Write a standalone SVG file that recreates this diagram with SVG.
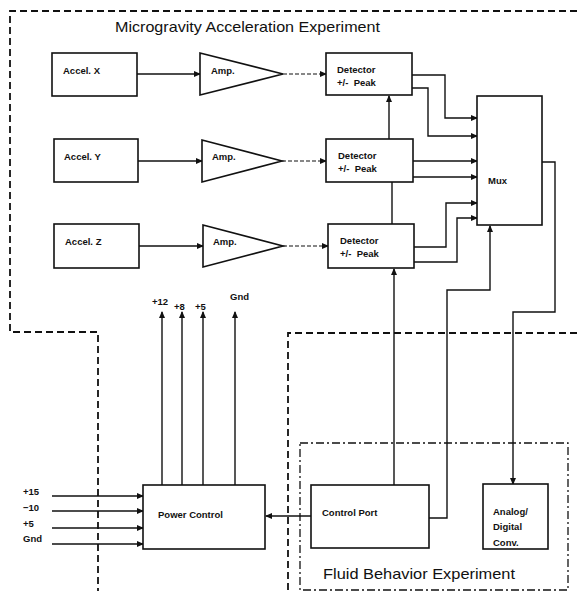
<svg xmlns="http://www.w3.org/2000/svg" width="577" height="591" viewBox="0 0 577 591">
<style>
.box{fill:#fff;stroke:#111;stroke-width:1.6}
.ln{fill:none;stroke:#111;stroke-width:1.4}
.dl{fill:none;stroke:#111;stroke-width:1.2;stroke-dasharray:4 2}
.bd{fill:none;stroke:#111;stroke-width:1.8;stroke-dasharray:7 4}
.dd{fill:none;stroke:#111;stroke-width:1.3;stroke-dasharray:8 3 2 3}
.t{font-family:"Liberation Sans",Arial,sans-serif;font-size:9.5px;font-weight:bold;fill:#111}
.big{font-family:"Liberation Sans",Arial,sans-serif;font-size:15px;fill:#111}
</style>
<defs>
<marker id="ah" markerWidth="7" markerHeight="6" refX="6" refY="3" orient="auto" markerUnits="userSpaceOnUse">
<path d="M0,0 L7,3 L0,6 Z" fill="#111"/>
</marker>
</defs>
<rect width="577" height="591" fill="#fff"/>
<g id="borders">
<path class="bd" d="M577,11 H10 V332 H98 V591"/>
<path class="bd" d="M577,333 H288 V591"/>
<rect class="dd" x="300" y="443" width="268" height="147"/>
<text class="big" x="115" y="32" textLength="265" lengthAdjust="spacingAndGlyphs">Microgravity Acceleration Experiment</text>
<text class="big" x="323" y="579" textLength="192" lengthAdjust="spacingAndGlyphs">Fluid Behavior Experiment</text>
</g>
<g id="connectors" class="ln">
<path d="M137,74 H200" marker-end="url(#ah)"/>
<path d="M138,161 H202" marker-end="url(#ah)"/>
<path d="M139,246 H203" marker-end="url(#ah)"/>
<path class="dl" d="M283,74 H326" marker-end="url(#ah)"/>
<path class="dl" d="M282,161 H326" marker-end="url(#ah)"/>
<path class="dl" d="M283,246 H328" marker-end="url(#ah)"/>
<path d="M389,139 V96" marker-end="url(#ah)"/>
<path d="M392,224 V182"/>
<path d="M394,485 V269" marker-end="url(#ah)"/>
<path d="M412,75 H445 V118 H477" marker-end="url(#ah)"/>
<path d="M412,88 H428 V136 H477" marker-end="url(#ah)"/>
<path d="M413,161 H477" marker-end="url(#ah)"/>
<path d="M413,177 H477" marker-end="url(#ah)"/>
<path d="M414,247 H446 V203 H477" marker-end="url(#ah)"/>
<path d="M414,262 H457 V218 H477" marker-end="url(#ah)"/>
<path d="M429,518 H447 V290 H490 V226" marker-end="url(#ah)"/>
<path d="M542,162 H555 V312 H513 V484" marker-end="url(#ah)"/>
<path d="M311,516 H266" marker-end="url(#ah)"/>
<path d="M52,496 H143" marker-end="url(#ah)"/>
<path d="M52,511 H143" marker-end="url(#ah)"/>
<path d="M52,528 H143" marker-end="url(#ah)"/>
<path d="M52,544 H143" marker-end="url(#ah)"/>
<path d="M162,485 V312" marker-end="url(#ah)"/>
<path d="M182,485 V312" marker-end="url(#ah)"/>
<path d="M203,485 V312" marker-end="url(#ah)"/>
<path d="M235,485 V312" marker-end="url(#ah)"/>
</g>
<g id="accelX"><rect class="box" x="52" y="53" width="85" height="43"/><text class="t" x="63" y="74">Accel. X</text></g>
<g id="accelY"><rect class="box" x="54" y="139" width="84" height="43"/><text class="t" x="64" y="160">Accel. Y</text></g>
<g id="accelZ"><rect class="box" x="54" y="224" width="85" height="44"/><text class="t" x="65" y="245">Accel. Z</text></g>
<g id="ampX"><path class="box" d="M200,53 L283,74 L200,95 Z"/><text class="t" x="211" y="74">Amp.</text></g>
<g id="ampY"><path class="box" d="M202,140 L282,161 L202,182 Z"/><text class="t" x="212" y="160">Amp.</text></g>
<g id="ampZ"><path class="box" d="M203,225 L283,246 L203,267 Z"/><text class="t" x="213" y="245">Amp.</text></g>
<g id="detX"><rect class="box" x="326" y="53" width="86" height="42"/><text class="t" x="337" y="73">Detector</text><text class="t" x="337" y="86" xml:space="preserve">+/-  Peak</text></g>
<g id="detY"><rect class="box" x="326" y="139" width="87" height="43"/><text class="t" x="338" y="159">Detector</text><text class="t" x="338" y="172" xml:space="preserve">+/-  Peak</text></g>
<g id="detZ"><rect class="box" x="328" y="224" width="86" height="44"/><text class="t" x="340" y="244">Detector</text><text class="t" x="340" y="257" xml:space="preserve">+/-  Peak</text></g>
<g id="mux"><rect class="box" x="477" y="96" width="65" height="129"/><text class="t" x="488" y="184">Mux</text></g>
<g id="powerControl"><rect class="box" x="143" y="485" width="122" height="64"/><text class="t" x="158" y="518">Power Control</text></g>
<g id="controlPort"><rect class="box" x="311" y="485" width="118" height="63"/><text class="t" x="322" y="516">Control Port</text></g>
<g id="adc"><rect class="box" x="483" y="484" width="65" height="65"/><text class="t" x="493" y="515">Analog/</text><text class="t" x="493" y="530">Digital</text><text class="t" x="493" y="546">Conv.</text></g>
<g id="powerLabels">
<text class="t" x="23" y="495">+15</text>
<text class="t" x="23" y="511">−10</text>
<text class="t" x="23" y="527">+5</text>
<text class="t" x="23" y="542">Gnd</text>
<text class="t" x="152" y="305">+12</text>
<text class="t" x="174" y="310">+8</text>
<text class="t" x="195" y="310">+5</text>
<text class="t" x="230" y="300">Gnd</text>
</g>
</svg>
